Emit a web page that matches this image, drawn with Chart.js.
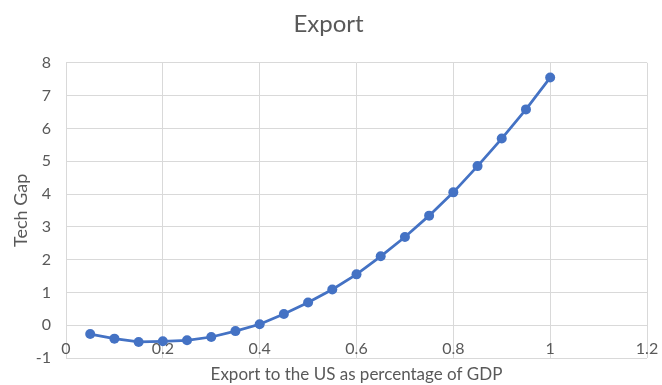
<!DOCTYPE html>
<html>
<head>
<meta charset="utf-8">
<script src="https://cdn.jsdelivr.net/npm/chart.js@4/dist/chart.umd.min.js"></script>
<style>
  html, body { margin: 0; padding: 0; background: #fff; }
  #wrap { width: 662px; height: 385px; }
</style>
</head>
<body>
<div id="wrap"><canvas id="chart"></canvas></div>
<script>
const exportShare = [0.05, 0.1, 0.15, 0.2, 0.25, 0.3, 0.35, 0.4, 0.45, 0.5,
                     0.55, 0.6, 0.65, 0.7, 0.75, 0.8, 0.85, 0.9, 0.95, 1.0];
const techGap = [-0.27, -0.41, -0.51, -0.49, -0.46, -0.36, -0.18, 0.03, 0.34, 0.69,
                 1.09, 1.55, 2.10, 2.69, 3.34, 4.05, 4.85, 5.69, 6.58, 7.55];

const TEXT = '#595959';
const GRID = '#d9d9d9';
const BLUE = '#4472c4';
const FONT = 'Lato, "Open Sans", sans-serif';

new Chart(document.getElementById('chart'), {
    type: 'line',
    data: {
        datasets: [{
            data: exportShare.map((x, i) => ({x: x, y: techGap[i]})),
            borderColor: BLUE,
            backgroundColor: BLUE,
            borderWidth: 2.75,
            pointRadius: 5,
            pointBorderWidth: 0,
            tension: 0
        }]
    },
    options: {
        responsive: true,
        maintainAspectRatio: false,
        animation: false,
        layout: { padding: { left: 10, right: 15, top: 0, bottom: 0 } },
        plugins: {
            legend: { display: false },
            tooltip: { enabled: false },
            title: {
                display: true,
                text: 'Export',
                color: TEXT,
                font: { family: FONT, size: 24, weight: 'normal' },
                padding: { top: 10, bottom: 24 }
            }
        },
        scales: {
            // the value axis crosses at y = 0, labels sit just under it
            x: {
                type: 'linear',
                position: { y: 0 },
                min: 0,
                max: 1.2,
                afterFit: s => { s.paddingLeft = 0; s.paddingRight = 0; },
                ticks: {
                    stepSize: 0.2,
                    color: TEXT,
                    padding: 14,
                    font: { family: FONT, size: 16 },
                    callback: v => String(+v.toFixed(1))
                },
                grid: { color: GRID, drawTicks: false },
                border: { display: false }
            },
            // bottom strip only carries the axis title
            xTitle: {
                type: 'linear',
                position: 'bottom',
                afterFit: s => { s.height = 27; },
                ticks: { display: false },
                grid: { display: false, drawTicks: false },
                border: { display: false },
                title: {
                    display: true,
                    text: 'Export to the US as percentage of GDP',
                    color: TEXT,
                    padding: 0,
                    font: { family: FONT, size: 17 }
                }
            },
            y: {
                min: -1,
                max: 8,
                afterFit: s => { s.width = 56; },
                ticks: {
                    stepSize: 1,
                    color: TEXT,
                    padding: 15,
                    font: { family: FONT, size: 16 }
                },
                grid: { color: GRID, drawTicks: false },
                border: { display: false },
                title: {
                    display: true,
                    text: 'Tech Gap',
                    color: TEXT,
                    padding: 0,
                    font: { family: FONT, size: 18 }
                }
            }
        }
    }
});
</script>
</body>
</html>
